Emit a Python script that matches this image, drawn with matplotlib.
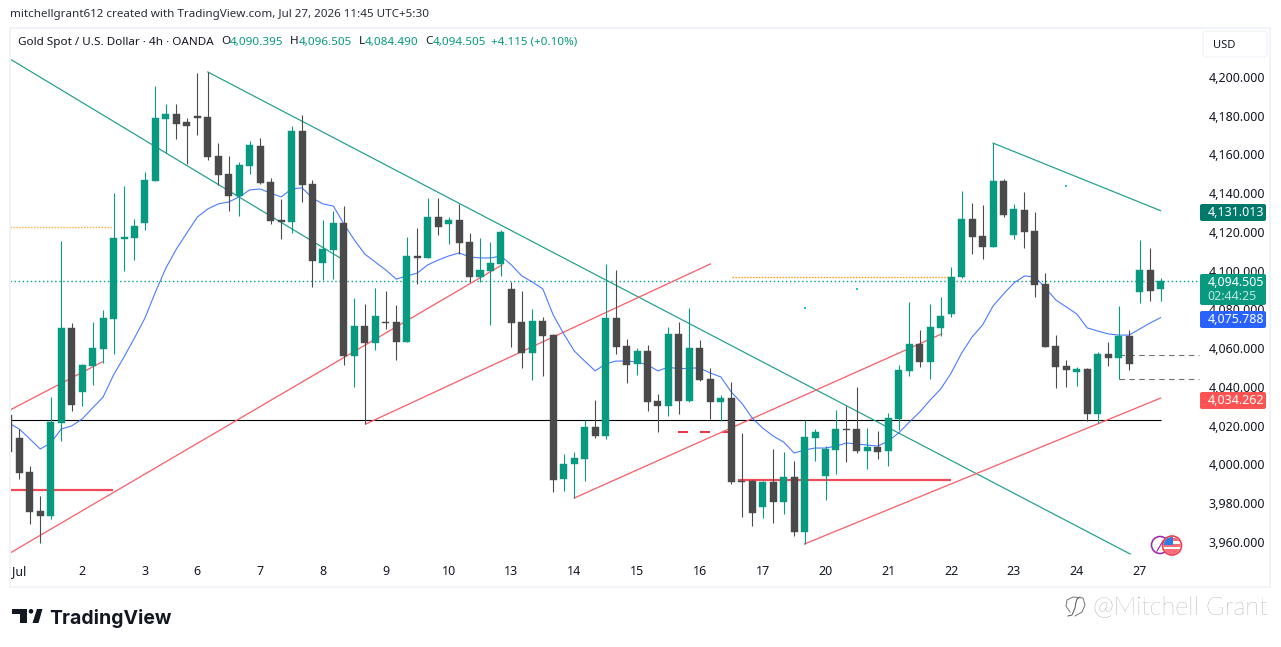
import matplotlib
matplotlib.use("Agg")
import matplotlib.pyplot as plt
from matplotlib.patches import Circle, FancyBboxPatch, Polygon, Rectangle

plt.rcParams["font.family"] = ["Noto Sans", "DejaVu Sans"]

# 4h candles
opens = [4025.5, 4013.7, 3996.1, 3976, 3973.4, 4021.4, 4070.5, 4037.4, 4050.8, 4059.6,
         4075.1, 4116.4, 4116.9, 4124.6, 4146.3, 4178.3, 4180.9, 4176.8, 4179.9, 4179.4,
         4159.2, 4149.9, 4138.6, 4154.1, 4164.4, 4145.8, 4126.2, 4125.2, 4172.1, 4144.8,
         4104, 4110.7, 4124.6, 4056, 4071.5, 4062.7, 4073.5, 4073.5, 4063.2, 4107.6,
         4106.6, 4127.7, 4124.1, 4126.2, 4114.8, 4096.8, 4099.9, 4103.5, 4090.6, 4073.5,
         4057.5, 4074.1, 4066.8, 3992.5, 4000.3, 4002.8, 4019.4, 4014.7, 4075.6, 4061.2,
         4051.9, 4058.6, 4032.8, 4030.2, 4067.4, 4032.8, 4060.1, 4044.1, 4032.3, 4034.3,
         3991.5, 3991.5, 3978.1, 3991, 3980.6, 3993.5, 3965.2, 4013.7, 3994.1, 4007.5,
         4018.3, 4018.3, 4007, 4009, 4007, 4023.5, 4048.3, 4062.2, 4052.9, 4070.5,
         4077.7, 4096.8, 4126.7, 4117.9, 4112.3, 4146.3, 4118.5, 4131.4, 4120.5, 4093.2,
         4061.2, 4050.8, 4047.7, 4049.3, 4026.1, 4057, 4055, 4066.3, 4089, 4100.4,
         4090.395]
highs = [4025.5, 4018.3, 3999.2, 3983.7, 4034.8, 4115.4, 4073, 4051.9, 4073.5, 4079.7,
         4140.1, 4143.7, 4126.7, 4151, 4195.4, 4186.1, 4186.1, 4178.8, 4202.1, 4202.6,
         4165.9, 4159.2, 4156.1, 4167, 4168.5, 4147.9, 4137.1, 4174.7, 4180.4, 4146.8,
         4126.2, 4130.8, 4133.4, 4085.9, 4082.8, 4091.1, 4089.5, 4082.3, 4117.4, 4122.1,
         4137.5, 4137.5, 4127.7, 4134.5, 4119.5, 4116.9, 4114.8, 4121, 4094.2, 4089.5,
         4080.3, 4076.1, 4067.4, 4005.4, 4006.5, 4023, 4033.3, 4103.5, 4100.4, 4064.8,
         4060.1, 4061.7, 4036.4, 4071, 4073.5, 4080.8, 4064.3, 4049.8, 4035.9, 4042.6,
         4016.3, 3992, 3991.5, 4008, 4006.5, 4001.8, 4023, 4018.3, 4009.5, 4028.1,
         4030.2, 4040, 4018.8, 4017.3, 4026.6, 4051.4, 4083.9, 4069.4, 4082.8, 4086.5,
         4101.9, 4141.2, 4135, 4133.9, 4165.9, 4147.4, 4134.5, 4140.6, 4130.3, 4098.8,
         4066.8, 4053.9, 4050.3, 4049.8, 4058.1, 4063.2, 4081.8, 4069.4, 4115.9, 4111.7,
         4096.505]
lows = [4006.5, 3992.5, 3969.3, 3959.5, 3971.9, 4012.1, 4027.6, 4030.2, 4041, 4052.4,
        4057, 4099.9, 4105.5, 4121, 4146.3, 4160.8, 4168, 4155.1, 4170.1, 4157.2,
        4144.3, 4130.8, 4128.3, 4149.9, 4144.8, 4124.1, 4116.4, 4119.5, 4135.5, 4091.6,
        4095.2, 4095.7, 4051.4, 4040, 4020.9, 4059.1, 4069.9, 4053.9, 4063.2, 4093.2,
        4106.6, 4118.5, 4113.8, 4108.6, 4094.2, 4094.2, 4072, 4097.3, 4060.6, 4049.8,
        4043.6, 4045.7, 3985.8, 3986.3, 3982.7, 3991.5, 4013.7, 4013.2, 4057, 4042.1,
        4046.2, 4027.6, 4016.8, 4025, 4026.1, 4032.3, 4043.1, 4023.5, 4022.5, 3989.9,
        3972.9, 3968.3, 3972.4, 3969.8, 3974.5, 3963.1, 3959, 4001.8, 3981.7, 3995.1,
        4001.3, 4005.9, 3997.7, 4002.8, 3999.2, 4017.8, 4045.7, 4050.3, 4044.1, 4066.3,
        4076.1, 4096.3, 4108.6, 4106.1, 4112.3, 4127.7, 4116.4, 4111.7, 4086.5, 4060.6,
        4039.5, 4040, 4040.5, 4022.5, 4021.4, 4050.8, 4044.1, 4048.8, 4083.4, 4084.4,
        4084.49]
closes = [4006.5, 3995.6, 3975.5, 3973.4, 4021.9, 4070.5, 4030.7, 4051.4, 4060.1, 4075.6,
          4116.9, 4117.4, 4123.1, 4146.8, 4178.8, 4180.9, 4175.7, 4174.7, 4178.8, 4158.7,
          4149.4, 4138.6, 4154.6, 4164.9, 4145.3, 4125.7, 4125.2, 4172.1, 4144.3, 4105,
          4111.2, 4124.6, 4056, 4071.5, 4062.7, 4076.6, 4073, 4063.2, 4107.6, 4106.6,
          4127.7, 4122.6, 4126.2, 4114.3, 4096.8, 4100.4, 4104, 4120, 4073, 4057.5,
          4074.1, 4066.3, 3992, 4000.3, 4003.4, 4019.4, 4014.7, 4075.6, 4060.6, 4051.4,
          4058.6, 4032.3, 4030.2, 4067.4, 4032.8, 4060.1, 4043.6, 4032.3, 4034.3, 3991,
          3991, 3975, 3991, 3980.6, 3993.5, 3965.2, 4014.2, 4016.8, 4008, 4018.3,
          4017.8, 4007, 4009, 4006.5, 4024, 4048.8, 4062.2, 4052.9, 4071, 4076.6,
          4096.8, 4126.7, 4117.4, 4112.3, 4146.3, 4128.8, 4131.9, 4120, 4092.6, 4060.6,
          4050.3, 4048.8, 4049.3, 4026.1, 4057, 4055, 4066.3, 4051.9, 4100.4, 4089.5,
          4094.505]
ma_values = [4021.4, 4018.3, 4013.2, 4008, 4011.1, 4018.3, 4019.9, 4023.5, 4029.2, 4034.8,
             4046.2, 4055.5, 4065.3, 4075.6, 4089, 4101.4, 4111.2, 4119.5, 4127.7, 4131.9,
             4134.5, 4135.5, 4138.1, 4141.7, 4142.2, 4140.1, 4138.1, 4142.2, 4142.8, 4137.5,
             4134.5, 4133.4, 4124.1, 4115.9, 4108.6, 4104.5, 4100.4, 4095.7, 4097.3, 4098.8,
             4103, 4105.5, 4107.6, 4109.2, 4107.1, 4106.6, 4106.6, 4107.6, 4103, 4097.3,
             4094.2, 4090.6, 4077.1, 4067.4, 4058.6, 4053.4, 4048.3, 4051.9, 4053.4, 4053.4,
             4052.9, 4051.4, 4048.3, 4050.3, 4049.3, 4049.8, 4049.8, 4047.2, 4045.2, 4037.4,
             4031.7, 4024, 4018.8, 4014.7, 4011.6, 4005.9, 4007.5, 4008.5, 4008.5, 4009.5,
             4011.1, 4010.6, 4010, 4009.5, 4012.1, 4016.3, 4021.9, 4027.1, 4033.3, 4039,
             4047.2, 4057.5, 4065.8, 4072, 4081.8, 4088, 4093.7, 4097.3, 4096.8, 4091.1,
             4084.9, 4081.3, 4077.7, 4070.5, 4068.9, 4067.4, 4066.8, 4066.8, 4069.9, 4073,
             4075.788]

# drawings as (bar, price) pairs
green_lines = [((0.11, 4209.3), (31.8, 4106.1)),
               ((19, 4202.6), (107.1, 3953.8)),
               ((94, 4165.9), (110, 4131.013))]
red_lines = [((0.11, 4028.1), (8.9, 4052.9)),
             ((0.11, 3954.3), (47.1, 4103)),
             ((34.1, 4020.9), (67, 4103.5)),
             ((54, 3982.7), (89.1, 4067.4)),
             ((76, 3959), (110, 4034.262))]
dots_x = [76, 81, 101]
dots_y = [4080.8, 4090.7, 4143.7]

price_ticks = [3960, 3980, 4000, 4020, 4040, 4060, 4080, 4100, 4120, 4140, 4160, 4180, 4200]
time_pos = [1, 7, 13, 18, 24, 30, 36, 42, 48, 54, 60, 66, 72, 78, 84, 90, 96, 102, 108]
time_labels = ["Jul", "2", "3", "6", "7", "8", "9", "10", "13", "14", "15", "16", "17",
               "20", "21", "22", "23", "24", "27"]

GREEN = "#089981"
DARK = "#4a4a4a"
W, H = 1281, 647
PX = 0.72  # one pixel in points at dpi 100

fig = plt.figure(figsize=(W / 100, H / 100), dpi=100, facecolor="white")
ax = fig.add_axes([10 / W, 1 - 560 / H, 1190 / W, 530 / H], zorder=1)
ax.set_xlim((10 - 8.85) / 10.47, (1200 - 8.85) / 10.47)
ax.set_ylim(4200 - (560 - 77) / 1.9375, 4200 + (77 - 30) / 1.9375)
for s in ax.spines.values():
    s.set_visible(False)

# levels and drawings sit under the candles
ax.hlines(4022.8, 0.11, 110, color="black", lw=1.1 * PX, zorder=2)
ax.hlines(3986.8, 0.11, 9.95, color="#f23645", lw=2.2 * PX, alpha=0.9, zorder=2)
ax.hlines(3991.8, 69.6, 90, color="#f23645", lw=2.2 * PX, alpha=0.9, zorder=2)
ax.plot([63.9, 69], [4016.8, 4016.8], color="#f23645", lw=2 * PX, ls=(0, (5, 6)), zorder=2)
ax.plot([0.11, 9.95], [4122.6, 4122.6], color="#ff9800", lw=1.4 * PX, ls=(0, (1, 1.1)), alpha=0.8, zorder=2)
ax.plot([69.07, 89.9], [4097, 4097], color="#ff9800", lw=1.4 * PX, ls=(0, (1, 1.1)), zorder=2)
ax.plot([0.11, 113.7], [4094.505, 4094.505], color="#00a388", lw=1.4 * PX, ls=(0, (1, 1.9)), zorder=2)
ax.plot([106, 113.7], [4056.5, 4056.5], color="#6f727d", lw=1.1 * PX, ls=(0, (5, 4)), zorder=2)
ax.plot([106, 113.7], [4044, 4044], color="#6f727d", lw=1.1 * PX, ls=(0, (5, 4)), zorder=2)
for a, b in green_lines:
    ax.plot([a[0], b[0]], [a[1], b[1]], color="#1f9e8a", lw=1.2 * PX, zorder=2)
for a, b in red_lines:
    ax.plot([a[0], b[0]], [a[1], b[1]], color="#f7626b", lw=1.3 * PX, zorder=2)
ax.scatter(dots_x, dots_y, s=3, color="#26c6da", marker="s", linewidths=0, zorder=2)
ax.plot(range(len(ma_values)), ma_values, color="#2962ff", lw=1.1 * PX, alpha=0.85, zorder=3)

idx = list(range(len(opens)))
colors = [GREEN if c >= o else DARK for o, c in zip(opens, closes)]
ax.vlines(idx, lows, highs, colors=colors, lw=1.1 * PX, zorder=4)
ax.bar(idx, [abs(c - o) for o, c in zip(opens, closes)], bottom=[min(o, c) for o, c in zip(opens, closes)],
       width=0.67, color=colors, edgecolor=colors, linewidth=0.3, zorder=5)

ax.yaxis.tick_right()
ax.set_yticks(price_ticks)
ax.set_yticklabels([f"{p:,.3f}" for p in price_ticks], fontsize=9, color="#131722")
ax.set_xticks(time_pos)
ax.set_xticklabels(time_labels, fontsize=9, color="#131722")
ax.tick_params(axis="y", length=0, pad=6)
ax.tick_params(axis="x", length=0, pad=3.5)

# chrome in screen pixels
ov = fig.add_axes([0, 0, 1, 1], zorder=2)
ov.set_xlim(0, W)
ov.set_ylim(H, 0)
ov.axis("off")
ov.patch.set_alpha(0)

ov.add_patch(Rectangle((9.5, 28), 1260.5, 559, fill=False, ec="#f0f3fa", lw=2 * PX))
ov.add_patch(FancyBboxPatch((1203, 31), 64, 26, boxstyle="round,pad=0,rounding_size=4",
                            fc="white", ec="#f0f3fa", lw=1.3 * PX))
ov.text(1213, 45, "USD", fontsize=8, color="#131722", va="center")

ov.text(10, 14, "mitchellgrant612 created with TradingView.com, Jul 27, 2026 11:45 UTC+5:30",
        fontsize=8.4, color="#2a2e39", va="center")
ov.text(18, 42, "Gold Spot / U.S. Dollar · 4h · OANDA", fontsize=8.4, color="#131722", va="center")
for x, s in [(221, "O"), (290, "H"), (359, "L"), (425, "C")]:
    ov.text(x, 42, s, fontsize=8.4, color="#131722", va="center")
for x, s in [(230, "4,090.395"), (299, "4,096.505"), (365, "4,084.490"), (433, "4,094.505"),
             (491, "+4.115 (+0.10%)")]:
    ov.text(x, 42, s, fontsize=8.4, color=GREEN, va="center")


def price_tag(y0, y1, color, label):
    ov.add_patch(FancyBboxPatch((1200, y0), 66, y1 - y0, boxstyle="round,pad=0,rounding_size=2",
                                fc=color, ec="none"))
    ov.text(1207.5, y0 + 8.5, label, fontsize=9, color="white", va="center", fontweight="medium")


price_tag(204, 221, "#00796b", "4,131.013")
price_tag(274, 305, GREEN, "4,094.505")
ov.text(1207.5, 296, "02:44:25", fontsize=9, color="#bfe5dc", va="center")
price_tag(311, 328, "#2962ff", "4,075.788")
price_tag(392, 409, "#ff5252", "4,034.262")

# event badges
ov.add_patch(Circle((1160, 545), 8.5, fc="white", ec="#9c27b0", lw=1.6 * PX, zorder=3))
ov.plot([1157, 1163], [551, 541], color="#9c27b0", lw=1.2 * PX, zorder=3)
ring = Circle((1172, 545.5), 9.5, fc="white", ec="#f23645", lw=1.6 * PX, zorder=4)
ov.add_patch(ring)
for y, h, c in [(538, 3, "#f7525f"), (544, 2.5, "#f7525f"), (549, 5, "#f7525f")]:
    r = Rectangle((1163, y), 18, h, fc=c, ec="none", zorder=5, alpha=0.85)
    ov.add_patch(r)
    r.set_clip_path(Circle((1172, 545.5), 8.5, transform=ov.transData))
canton = Rectangle((1163, 536), 9.5, 9, fc="#2f7de1", ec="none", zorder=6)
ov.add_patch(canton)
canton.set_clip_path(Circle((1172, 545.5), 8.5, transform=ov.transData))

# TradingView logo
ov.add_patch(Polygon([(12, 609), (27, 609), (27, 623), (20, 623), (20, 613.5), (12, 613.5)],
                     fc="#131722", ec="none"))
ov.add_patch(Circle((31, 611.3), 2.3, fc="#131722", ec="none"))
ov.add_patch(Polygon([(37, 609), (42.5, 609), (38.5, 623), (32.5, 623)], fc="#131722", ec="none"))
ov.text(49.5, 618.5, "TradingView", fontsize=14, fontfamily="Inter", fontweight="bold",
        color="#131722", va="center")

# watermark
ov.text(1093, 607, "@Mitchell Grant", fontsize=18.2, fontfamily="Lato", fontweight="light",
        color="#808080", va="center")
ov.plot([1068, 1072, 1075, 1076, 1077, 1080], [616, 615, 608, 602, 599, 597], color="#555555", lw=PX)
ov.plot([1070, 1066, 1067, 1073, 1083, 1085, 1082, 1075],
        [612, 606, 600, 597, 598, 605, 612, 616], color="#777777", lw=PX)

fig.savefig("out.png", dpi=100, facecolor="white")
